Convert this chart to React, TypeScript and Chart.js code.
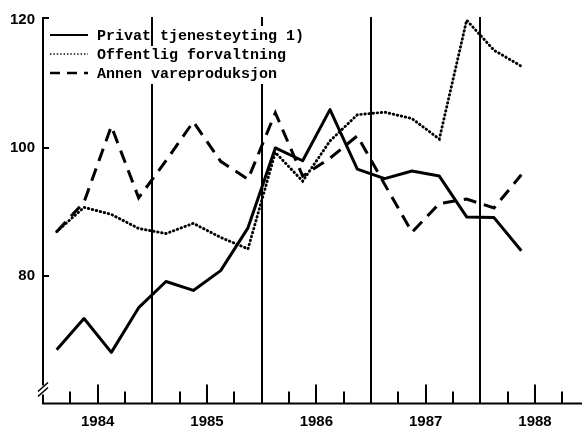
import React, { useEffect, useRef } from "react";
import { Chart, registerables } from "chart.js";

Chart.register(...registerables);

// Quarterly observations, 1984 Q1 – 1988 Q2
const quarters = [
  "1984 K1", "1984 K2", "1984 K3", "1984 K4",
  "1985 K1", "1985 K2", "1985 K3", "1985 K4",
  "1986 K1", "1986 K2", "1986 K3", "1986 K4",
  "1987 K1", "1987 K2", "1987 K3", "1987 K4",
  "1988 K1", "1988 K2",
];
const privatTjenesteyting = [68.4, 73.3, 68.0, 75.0, 79.1, 77.7, 80.8, 87.5, 100.0, 98.0, 106.0, 96.7, 95.2, 96.4, 95.6, 89.2, 89.1, 83.9];
const offentligForvaltning = [86.9, 90.7, 89.6, 87.4, 86.6, 88.2, 86.0, 84.2, 99.3, 94.8, 101.1, 105.2, 105.6, 104.6, 101.4, 120.0, 115.3, 112.8];
const annenVareproduksjon = [86.9, 91.5, 103.4, 92.2, 98.0, 104.1, 97.9, 95.1, 105.5, 95.6, 98.4, 101.9, 94.3, 86.8, 91.3, 92.0, 90.6, 95.8];
const seriesNames = ["Privat tjenesteyting 1)", "Offentlig forvaltning", "Annen vareproduksjon"];
const yearLabels = ["1984", "1985", "1986", "1987", "1988"];
const yTickValues = [80, 100, 120];

const toPoints = (arr: number[]) => arr.map((v, i) => ({ x: i + 0.5, y: v }));

const framePlugin = {
  id: "frame",
  beforeDatasetsDraw(chart: any) {
    const { ctx, chartArea, scales } = chart;
    const { left, top, right, bottom } = chartArea;
    const xs = scales.x;
    const ys = scales.y;
    ctx.save();
    ctx.strokeStyle = "#000";
    ctx.lineCap = "butt";
    // year boundary lines
    ctx.lineWidth = 2;
    for (let k = 1; k < yearLabels.length; k++) {
      const px = Math.round(xs.getPixelForValue(k * 4));
      ctx.beginPath();
      ctx.moveTo(px, top);
      ctx.lineTo(px, bottom);
      ctx.stroke();
    }
    // quarter tick marks
    ctx.lineWidth = 2;
    const maxQ = Math.floor(xs.max);
    for (let q = 1; q <= maxQ; q++) {
      if (q % 4 === 0) continue;
      const px = Math.round(xs.getPixelForValue(q));
      const len = q % 4 === 2 ? 19 : 12;
      ctx.beginPath();
      ctx.moveTo(px, bottom);
      ctx.lineTo(px, bottom - len);
      ctx.stroke();
    }
    // x axis
    ctx.lineWidth = 2;
    ctx.beginPath();
    ctx.moveTo(left - 1, bottom);
    ctx.lineTo(right, bottom);
    ctx.stroke();
    // y axis with break
    ctx.beginPath();
    ctx.moveTo(left, top);
    ctx.lineTo(left, bottom - 18);
    ctx.moveTo(left, bottom - 9);
    ctx.lineTo(left, bottom);
    ctx.stroke();
    ctx.lineWidth = 1.6;
    ctx.beginPath();
    ctx.moveTo(left - 5, bottom - 12);
    ctx.lineTo(left + 5, bottom - 21);
    ctx.moveTo(left - 5, bottom - 7);
    ctx.lineTo(left + 5, bottom - 16);
    ctx.stroke();
    // y ticks (inward)
    ctx.lineWidth = 2;
    for (const v of yTickValues) {
      const py = v >= ys.max - 1 ? top + 1 : Math.round(ys.getPixelForValue(v));
      ctx.beginPath();
      ctx.moveTo(left - 1, py);
      ctx.lineTo(left + 6, py);
      ctx.stroke();
    }
    ctx.restore();
  },
  afterDraw(chart: any) {
    const { ctx, chartArea } = chart;
    const { left, top } = chartArea;
    ctx.save();
    // legend background (hides grid lines behind text)
    ctx.fillStyle = "#fff";
    ctx.fillRect(left + 115, top + 9, 155, 21);
    ctx.fillRect(left + 4, top + 29, 266, 38);
    const rows = chart.data.datasets;
    const rowY = [top + 18, top + 37, top + 56];
    const x0 = left + 7;
    const x1 = left + 45;
    rows.forEach((ds: any, i: number) => {
      ctx.strokeStyle = "#000";
      ctx.beginPath();
      if (i === 0) {
        ctx.lineWidth = 2.2;
        ctx.setLineDash([]);
      } else if (i === 1) {
        ctx.lineWidth = 1.4;
        ctx.setLineDash([1.4, 2]);
      } else {
        ctx.lineWidth = 2.4;
        ctx.setLineDash([10, 7]);
      }
      ctx.moveTo(x0, rowY[i]);
      ctx.lineTo(x1, rowY[i]);
      ctx.stroke();
      ctx.setLineDash([]);
      ctx.fillStyle = "#000";
      ctx.font = "bold 15px 'Liberation Mono', 'DejaVu Sans Mono', monospace";
      ctx.textBaseline = "alphabetic";
      ctx.textAlign = "left";
      ctx.fillText(ds.label, left + 54, rowY[i] + 5);
    });
    ctx.restore();
  },
};

export default function App() {
  const canvasRef = useRef<HTMLCanvasElement | null>(null);

  useEffect(() => {
    if (!canvasRef.current) return;
    const tickFont = { family: "'Liberation Sans', Arial, sans-serif", size: 15, weight: "bold" as const };
    const chart = new Chart(canvasRef.current, {
      type: "line",
      data: {
        labels: quarters,
        datasets: [
          {
            label: seriesNames[0],
            data: toPoints(privatTjenesteyting),
            borderColor: "#000",
            borderWidth: 3,
            borderJoinStyle: "round",
            pointRadius: 0,
            tension: 0,
            fill: false,
          },
          {
            label: seriesNames[1],
            data: toPoints(offentligForvaltning),
            borderColor: "#000",
            borderWidth: 2.9,
            borderDash: [0.5, 3.6],
            borderCapStyle: "round",
            pointRadius: 0,
            tension: 0,
            fill: false,
          },
          {
            label: seriesNames[2],
            data: toPoints(annenVareproduksjon),
            borderColor: "#000",
            borderWidth: 3,
            borderDash: [13, 8],
            borderJoinStyle: "miter",
            pointRadius: 0,
            tension: 0,
            fill: false,
          },
        ],
      },
      options: {
        animation: false,
        responsive: true,
        maintainAspectRatio: false,
        layout: { padding: { top: 15.5, left: 0, right: 0, bottom: 0 } },
        plugins: {
          legend: { display: false },
          tooltip: { enabled: false },
          title: { display: false },
        },
        scales: {
          x: {
            type: "linear",
            min: 0,
            max: 19.72,
            grid: { display: false, drawTicks: false },
            border: { display: false },
            afterFit: (scale: any) => {
              scale.height = 26.5;
            },
            afterBuildTicks: (scale: any) => {
              scale.ticks = yearLabels.map((_, i) => ({ value: i * 4 + 2 }));
            },
            ticks: {
              autoSkip: false,
              maxRotation: 0,
              padding: 9,
              color: "#000",
              font: tickFont,
              callback: (value: any) => yearLabels[Math.round((Number(value) - 2) / 4)] ?? "",
            },
          },
          y: {
            type: "linear",
            min: 60,
            max: 120.5,
            grid: { display: false, drawTicks: false },
            border: { display: false },
            afterFit: (scale: any) => {
              scale.width = 43;
            },
            afterBuildTicks: (scale: any) => {
              scale.ticks = yTickValues.map((v) => ({ value: v }));
            },
            ticks: {
              padding: 8,
              color: "#000",
              font: tickFont,
              callback: (value: any) => String(value),
            },
          },
        },
      },
      plugins: [framePlugin],
    });
    return () => chart.destroy();
  }, []);

  return (
    <div style={{ position: "fixed", left: 0, top: 0, width: 582, height: 430, background: "#fff" }}>
      <canvas ref={canvasRef} />
    </div>
  );
}
